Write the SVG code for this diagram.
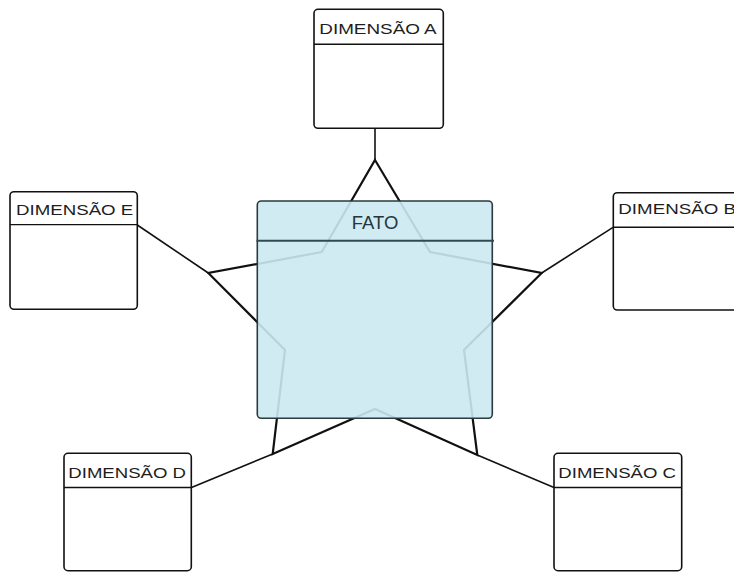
<svg xmlns="http://www.w3.org/2000/svg" width="734" height="572" viewBox="0 0 734 572">
<style>
.box{fill:#fff;stroke:#111;stroke-width:1.6}
.hdr{stroke:#111;stroke-width:1.4}
.lbl{font-family:"Liberation Sans",Arial,sans-serif;font-size:15.5px;fill:#1e1e1e}
.star{fill:none;stroke:#111;stroke-width:2.2;stroke-linejoin:miter}
.link{fill:none;stroke:#111;stroke-width:1.6}
</style>
<rect width="734" height="572" fill="#fff"/>
<g id="connectors">
<polygon class="star" points="375,160 430,252 541.7,273 464,350 477.3,455 375,409 272.7,454 285,350 208.3,273 321.7,252"/>
<line class="link" x1="375" y1="128" x2="375" y2="160"/>
<line class="link" x1="208.3" y1="273" x2="137.3" y2="225"/>
<line class="link" x1="541.7" y1="273" x2="613" y2="227.3"/>
<line class="link" x1="272.7" y1="454" x2="191.5" y2="487.5"/>
<line class="link" x1="477.3" y1="455" x2="554" y2="487.5"/>
</g>
<g id="fato">
<rect x="257.3" y="201" width="235" height="217.3" rx="4" fill="#cce9f1" fill-opacity="0.9" stroke="#2b3a3e" stroke-width="1.6"/>
<line x1="256.5" y1="240.7" x2="494" y2="240.7" stroke="#2f4a50" stroke-width="2"/>
<text x="375" y="228.5" text-anchor="middle" font-family="'Liberation Sans',Arial,sans-serif" font-size="18.5" fill="#26363a">FATO</text>
</g>
<g id="dimA">
<rect class="box" x="314" y="9.3" width="129.3" height="119" rx="4"/>
<line class="hdr" x1="314" y1="44.3" x2="443.3" y2="44.3"/>
<text class="lbl" x="319.3" y="34.3" textLength="117.4" lengthAdjust="spacingAndGlyphs">DIMENSÃO A</text>
</g>
<g id="dimE">
<rect class="box" x="10" y="191.7" width="127.3" height="117.6" rx="4"/>
<line class="hdr" x1="10" y1="224.6" x2="137.3" y2="224.6"/>
<text class="lbl" x="16" y="215" textLength="117.3" lengthAdjust="spacingAndGlyphs">DIMENSÃO E</text>
</g>
<g id="dimB">
<rect class="box" x="613.3" y="192.7" width="128" height="117.3" rx="4"/>
<line class="hdr" x1="613.3" y1="227.3" x2="741.3" y2="227.3"/>
<text class="lbl" x="618.3" y="214.3" textLength="117.7" lengthAdjust="spacingAndGlyphs">DIMENSÃO B</text>
</g>
<g id="dimD">
<rect class="box" x="64" y="453.3" width="127.3" height="117.4" rx="4"/>
<line class="hdr" x1="64" y1="487.5" x2="191.3" y2="487.5"/>
<text class="lbl" x="68.3" y="477.7" textLength="117.7" lengthAdjust="spacingAndGlyphs">DIMENSÃO D</text>
</g>
<g id="dimC">
<rect class="box" x="554" y="453.3" width="127.7" height="117.4" rx="4"/>
<line class="hdr" x1="554" y1="487.5" x2="681.7" y2="487.5"/>
<text class="lbl" x="558.3" y="477.7" textLength="117.7" lengthAdjust="spacingAndGlyphs">DIMENSÃO C</text>
</g>
</svg>
